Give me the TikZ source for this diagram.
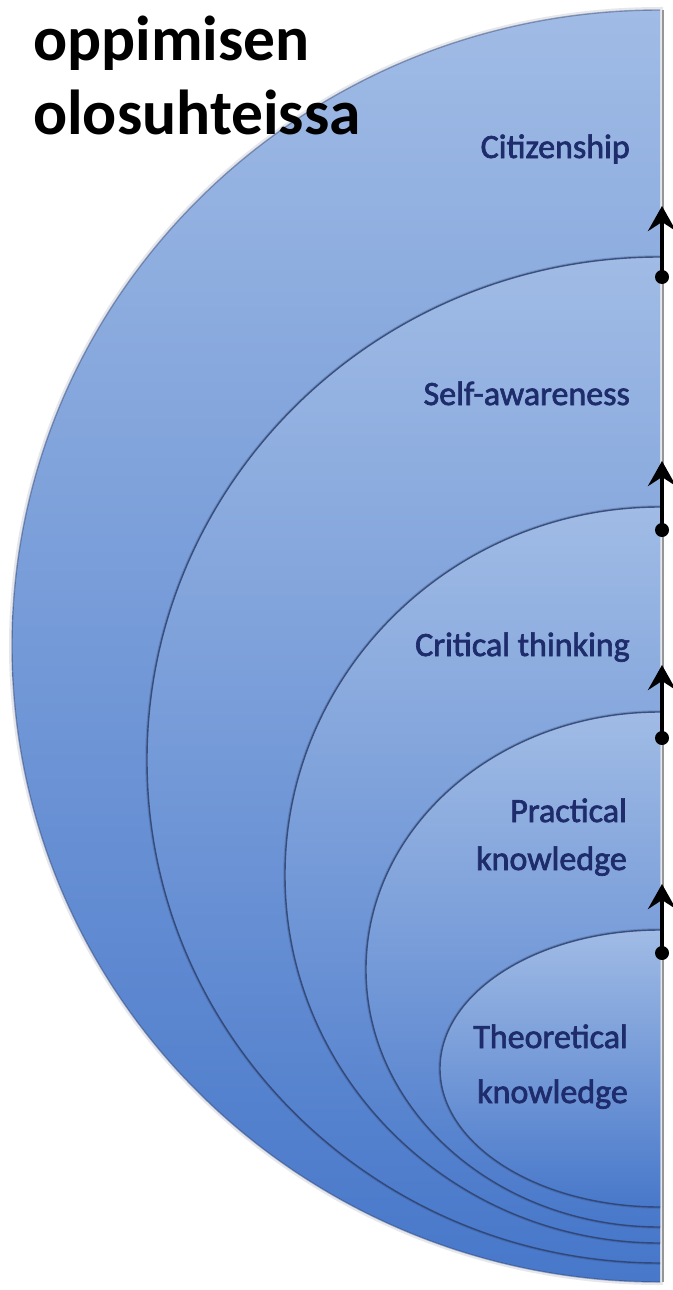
\documentclass[tikz,border=0pt]{standalone}
\usepackage{fontspec}
\setmainfont{Carlito}
\newfontfamily\lblfont[FakeBold=2]{Carlito}
\usetikzlibrary{arrows.meta}
\definecolor{lighttop}{RGB}{160,187,229}
\definecolor{darkbot}{RGB}{72,120,202}
\definecolor{rimcol}{RGB}{45,65,110}
\definecolor{labelcol}{RGB}{30,44,108}
\definecolor{edgegray}{RGB}{150,150,150}
\tikzset{
  x=1pt, y=1pt,
  layer/.style={top color=lighttop, bottom color=darkbot},
  rimglow/.style={draw=rimcol, line width=3.5pt, opacity=0.25},
  rimline/.style={draw=rimcol, line width=1.4pt, opacity=0.85},
  lbl/.style={font=\lblfont\fontsize{34}{40}\selectfont, text=labelcol, inner sep=0pt, anchor=base east},
  ttl/.style={font=\fontsize{63.5}{76}\selectfont\bfseries, text=black, inner sep=0pt, anchor=base west},
  dotnode/.style={circle, fill=black, inner sep=0pt, minimum size=14pt},
  upar/.style={line width=4.5pt, -{Stealth[length=25pt, width=28pt, inset=9pt]}},
}
\newcommand{\halfell}[4]{%
  (660,-#1) arc[start angle=90, end angle=270, x radius=#3pt, y radius=#4pt] -- cycle}
\begin{document}
\begin{tikzpicture}
\useasboundingbox (0,0) rectangle (672,-1290);
\fill[white] (0,0) rectangle (672,-1290);
% outer soft shadow
\draw[draw=rimcol, line width=6pt, opacity=0.12] \halfell{10}{1282}{648}{636};
% layers
\shade[layer] \halfell{10}{1282}{648}{636};
\draw[rimline, opacity=0.45] (660,-10) arc[start angle=90, end angle=270, x radius=648pt, y radius=636pt];

\draw[rimglow] (660,-257) arc[start angle=90, end angle=270, x radius=513pt, y radius=503pt];
\shade[layer] \halfell{257}{1263}{513}{503};
\draw[rimline] (660,-257) arc[start angle=90, end angle=270, x radius=513pt, y radius=503pt];

\draw[rimglow] (660,-507) arc[start angle=90, end angle=270, x radius=375pt, y radius=368pt];
\shade[layer] \halfell{507}{1243}{375}{368};
\draw[rimline] (660,-507) arc[start angle=90, end angle=270, x radius=375pt, y radius=368pt];

\draw[rimglow] (660,-712) arc[start angle=90, end angle=270, x radius=294pt, y radius=257.5pt];
\shade[layer] \halfell{712}{1227}{294}{257.5};
\draw[rimline] (660,-712) arc[start angle=90, end angle=270, x radius=294pt, y radius=257.5pt];

\draw[rimglow] (660,-930) arc[start angle=90, end angle=270, x radius=220pt, y radius=138.5pt];
\shade[layer] \halfell{930}{1207}{220}{138.5};
\draw[rimline] (660,-930) arc[start angle=90, end angle=270, x radius=220pt, y radius=138.5pt];

% right edge line
\coordinate (edgetop) at (663,-10);
\coordinate (edgebot) at (663,-1282);
\draw[edgegray, line width=1.5pt] (edgetop) -- (edgebot);

% title
\node[ttl] (title1) at (33,-61) {oppimisen};
\node[ttl] (title2) at (33,-134) {olosuhteissa};

% labels
\node[lbl] (citizen) at (630,-158) {Citizenship};
\node[lbl] (selfaw) at (630,-405) {Self-awareness};
\node[lbl] (critical) at (630,-656) {Critical thinking};
\node[lbl] (practical1) at (627,-822) {Practical};
\node[lbl] (practical2) at (627,-870) {knowledge};
\node[lbl] (theor1) at (628,-1048) {Theoretical};
\node[lbl] (theor2) at (628,-1103) {knowledge};

% arrows
\node[dotnode] (d1) at (662,-277) {};
\coordinate (t1) at (662,-206);
\draw[upar] (d1.center) -- (t1);
\node[dotnode] (d2) at (662,-530) {};
\coordinate (t2) at (662,-461);
\draw[upar] (d2.center) -- (t2);
\node[dotnode] (d3) at (662,-738) {};
\coordinate (t3) at (662,-665);
\draw[upar] (d3.center) -- (t3);
\node[dotnode] (d4) at (662,-953) {};
\coordinate (t4) at (662,-884);
\draw[upar] (d4.center) -- (t4);
\end{tikzpicture}
\end{document}
